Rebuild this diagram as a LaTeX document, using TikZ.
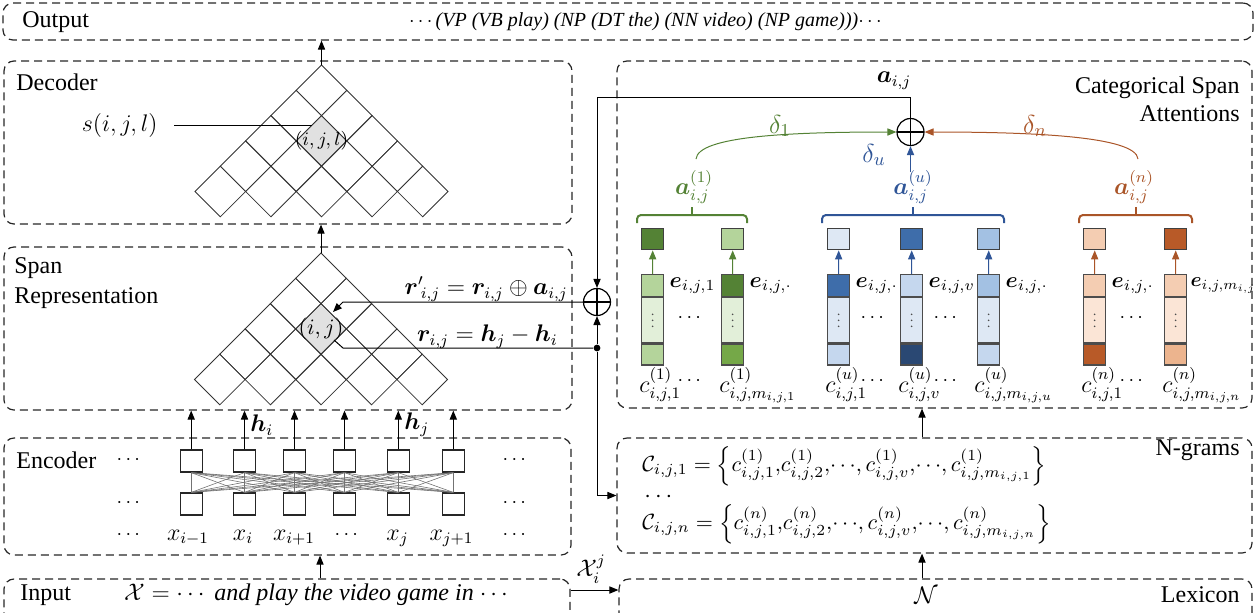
\RequirePackage{fix-cm}
\documentclass[tikz,border=0pt]{standalone}
\usepackage{amsmath}
\usepackage{bm}
\usepackage{fontspec}
\setmainfont{Liberation Serif}
\usetikzlibrary{arrows.meta,calc}

\definecolor{cgreen}{RGB}{84,130,53}
\definecolor{cblue}{RGB}{47,85,151}
\definecolor{cbrown}{RGB}{170,85,40}
\definecolor{gD}{RGB}{84,130,53}
\definecolor{gM}{RGB}{117,168,72}
\definecolor{gL}{RGB}{180,212,155}
\definecolor{gVL}{RGB}{226,239,217}
\definecolor{bN}{RGB}{42,72,115}
\definecolor{bD}{RGB}{62,109,170}
\definecolor{bM}{RGB}{163,193,227}
\definecolor{bL}{RGB}{197,215,238}
\definecolor{bVL}{RGB}{222,232,244}
\definecolor{oD}{RGB}{184,90,40}
\definecolor{oM}{RGB}{236,180,142}
\definecolor{oL}{RGB}{244,205,178}
\definecolor{oVL}{RGB}{251,229,214}
\definecolor{cellgray}{RGB}{225,225,225}

% pyramid of diamond cells: apex x, apex y
\newcommand{\drawpyr}[2]{%
  \fill[cellgray] (#1,#2+50.6) -- (#1+25.3,#2+75.9) -- (#1,#2+101.2) -- (#1-25.3,#2+75.9) -- cycle;
  \foreach \rowi in {0,...,4}{
    \foreach \coli in {0,...,\rowi}{
      \pgfmathsetmacro{\cxx}{#1+(2*\coli-\rowi)*25.3}
      \pgfmathsetmacro{\cyy}{#2+(\rowi+1)*25.3}
      \draw[cell] (\cxx,\cyy-25.3) -- (\cxx+25.3,\cyy) -- (\cxx,\cyy+25.3) -- (\cxx-25.3,\cyy) -- cycle;
    }
  }
}
% embedding column: name, xleft, top, mid, bottom, square, arrow colour
\newcommand{\embcol}[7]{%
  \node[sqbox, fill=#6, anchor=north west] (#1s) at (#2,228) {};
  \node[colcell, fill=#3, minimum height=11pt, anchor=north west] (#1t) at (#2,274) {};
  \node[colcell, fill=#4, minimum height=22.5pt, anchor=north] (#1m) at (#1t.south) {};
  \node[colcell, fill=#5, minimum height=10.5pt, anchor=north] (#1b) at (#1m.south) {};
  \fill[black!70] ([yshift=-3pt]#1m.center) circle[radius=0.45pt] (#1m.center) circle[radius=0.45pt] ([yshift=3pt]#1m.center) circle[radius=0.45pt];
  \draw[arr, #7] (#1t.north) -- (#1s.south);
}

\begin{document}
\begin{tikzpicture}[x=0.5pt,y=-0.5pt,
  panel/.style={draw=black!85, dash pattern=on 4pt off 2.5pt, rounded corners=5pt, line width=0.6pt, inner sep=0pt},
  lbl/.style={font=\fontsize{12}{14}\selectfont, inner sep=0pt},
  elbl/.style={font=\fontsize{11}{13}\selectfont, inner sep=0pt, anchor=west},
  small/.style={font=\fontsize{10}{12}\selectfont, inner sep=0pt},
  arr/.style={-{Triangle[length=4.5pt,width=3.6pt]}, line width=0.5pt},
  cell/.style={draw=black!80, line width=0.4pt},
  ebox/.style={draw=black!85, line width=0.6pt, minimum width=11pt, minimum height=11pt, inner sep=0pt},
  sqbox/.style={draw=black!75, line width=0.7pt, minimum width=11pt, minimum height=10.5pt, inner sep=0pt},
  colcell/.style={draw=black!70, line width=0.6pt, minimum width=11pt, inner sep=0pt},
  oplus/.style={circle, draw, line width=0.6pt, minimum size=13.5pt, inner sep=0pt,
     path picture={\draw[line width=0.6pt] (path picture bounding box.north) -- (path picture bounding box.south) (path picture bounding box.west) -- (path picture bounding box.east);}},
  brk/.style={line width=1pt, rounded corners=2pt},
]
\useasboundingbox (0,0) rectangle (1256,612);
\clip (0,0) rectangle (1256,612);

% ---------- panels ----------
\node[panel, minimum width=625pt, minimum height=18.5pt] (out) at (628,21.5) {};
\node[panel, minimum width=284pt, minimum height=81.5pt] (dec) at (288,142.5) {};
\node[panel, minimum width=284pt, minimum height=81.5pt] (span) at (288,328.5) {};
\node[panel, minimum width=283.5pt, minimum height=58.5pt] (enc) at (287.5,496.5) {};
\node[panel, minimum width=283pt, minimum height=23pt] (inp) at (287,602) {};
\node[panel, minimum width=317.5pt, minimum height=173.5pt] (csa) at (934.5,234.5) {};
\node[panel, minimum width=317.5pt, minimum height=57.5pt] (ngr) at (934.5,495.5) {};
\node[panel, minimum width=316.5pt, minimum height=23pt] (lex) at (935.5,602) {};

% ---------- panel labels ----------
\node[lbl, anchor=west] (outlab) at (22,22) {Output};
\node[inner sep=0pt, font=\fontsize{10}{12}\selectfont\itshape] (outtxt) at (647,22) {$\cdots$(VP (VB play) (NP (DT the) (NN video) (NP game)))$\cdots$};
\node[lbl, anchor=west] (declab) at (16,82) {Decoder};
\node[lbl, anchor=west, align=left, font=\fontsize{12}{15}\selectfont] (spanlab) at (14,283) {Span\\Representation};
\node[lbl, anchor=west] (enclab) at (16,460) {Encoder};
\node[lbl, anchor=west] (inplab) at (20,595) {Input};
\node[lbl] (inptxt) at (318,595) {$\mathcal{X} = \cdots$ \textit{and play the video game in} $\cdots$};
\node[lbl, anchor=east, align=right] (csalab) at (1240,99) {Categorical Span\\Attentions};
\node[lbl, anchor=east] (nglab) at (1240,450) {N-grams};
\node[lbl, anchor=east] (lexlab) at (1240,595) {Lexicon};
\node[lbl] (Nlab) at (926,595) {$\mathcal{N}$};

% ---------- decoder ----------
\drawpyr{321.5}{65}
\node[inner sep=0pt, font=\fontsize{9.5}{11}\selectfont] (cellD) at (321.5,141) {$(i,j,l)$};
\coordinate (decapex) at (321.5,65);
\draw[arr] (decapex) -- (decapex |- out.south);
\node[lbl, anchor=east] (slab) at (158,125) {$s(i,j,l)$};
\coordinate (sEnd) at (312,125);
\draw[line width=0.5pt] ([xshift=8pt]slab.east) -- (sEnd);

% ---------- span representation ----------
\drawpyr{321}{253}
\node[inner sep=0pt, font=\fontsize{11}{13}\selectfont] (cellS) at (321,329) {$(i,j)$};
\coordinate (spanapex) at (321,253);
\draw[arr] (spanapex) -- (spanapex |- dec.south);
\node[lbl, anchor=east] (rplab) at (568,289) {${\bm{r}'}_{\!i,j} = \bm{r}_{i,j} \oplus \bm{a}_{i,j}$};
\node[lbl, anchor=east] (rlab) at (558,337) {$\bm{r}_{i,j} = \bm{h}_j - \bm{h}_i$};

% ---------- encoder ----------
\foreach \kk/\xq in {1/191.2,2/244.5,3/294.5,4/344.5,5/398.3,6/453.3}{
  \node[ebox] (et\kk) at (\xq,461) {};
  \node[ebox] (eb\kk) at (\xq,504) {};
}
\foreach \ka in {1,...,6}{
  \foreach \kb in {1,...,6}{
    \draw[black!55, line width=0.3pt] (et\ka.south) -- (eb\kb.north);
  }
  \draw[arr] (et\ka.north) -- (et\ka.north |- span.south);
}
\node[lbl, anchor=west] (hi) at (250,425) {$\bm{h}_i$};
\node[lbl, anchor=west] (hj) at (404,425) {$\bm{h}_j$};
\foreach \yq in {460,503,535}{
  \node[small] (dl\yq) at (130,\yq) {$\cdots$};
  \node[small] (dr\yq) at (516,\yq) {$\cdots$};
}
\node[lbl, anchor=base] (x1) at (188,540) {$x_{i-1}$};
\node[lbl, anchor=base] (x2) at (243,540) {$x_{i}$};
\node[lbl, anchor=base] (x3) at (294,540) {$x_{i+1}$};
\node[small] (x4) at (348,535) {$\cdots$};
\node[lbl, anchor=base] (x5) at (397.5,540) {$x_{j}$};
\node[lbl, anchor=base] (x6) at (451.5,540) {$x_{j+1}$};

% ---------- input / lexicon ----------
\coordinate (inx) at (320,0);
\draw[arr] (inp.north -| inx) -- (enc.south -| inx);
\coordinate (xarr) at (0,590);
\draw[arr] (inp.east |- xarr) -- (lex.west |- xarr);
\node[lbl] (xij) at (591,569) {$\mathcal{X}_i^j$};
\coordinate (colx) at (922,0);
\draw[arr] (lex.north -| colx) -- (ngr.south -| colx);
\draw[arr] (ngr.north -| colx) -- (csa.south -| colx);

% ---------- n-grams ----------
\node[lbl, anchor=west, font=\fontsize{11}{13}\selectfont] (ng1) at (642,466) {$\mathcal{C}_{i,j,1} = \left\{c^{(1)}_{i,j,1},\!c^{(1)}_{i,j,2},\!\cdots\!,c^{(1)}_{i,j,v},\!\cdots\!,c^{(1)}_{i,j,m_{i,j,1}}\right\}$};
\node[lbl, anchor=west] (ng2) at (644,497) {$\cdots$};
\node[lbl, anchor=west, font=\fontsize{11}{13}\selectfont] (ng3) at (642,524) {$\mathcal{C}_{i,j,n} = \left\{c^{(n)}_{i,j,1},\!c^{(n)}_{i,j,2},\!\cdots\!,c^{(n)}_{i,j,v},\!\cdots\!,c^{(n)}_{i,j,m_{i,j,n}}\right\}$};

% ---------- oplus and routing ----------
\node[oplus] (oL) at (597,302) {};
\node[oplus] (oR) at (910.5,132) {};
\node[circle, fill, inner sep=0pt, minimum size=3.4pt] (dot) at (597,348) {};
\coordinate (ytop) at (0,97);
\draw[arr] (oR.north) -- (oR.north |- ytop) -| (oL.north);
\node[lbl] (alab) at (894,81) {$\bm{a}_{i,j}$};
\draw[arr] (dot) -- (oL.south);
\draw[arr] (dot) |- (ngr.west);
\coordinate (rpb) at (343,302);
\coordinate (rpt) at (333,312);
\draw[arr] (oL.west) -- (rpb) -- (rpt);
\coordinate (rb) at (343,348);
\coordinate (rt) at (334,340);
\draw[line width=0.5pt] (dot) -- (rb) -- (rt);

% ---------- categorical span attentions ----------
\embcol{G1}{641}{gL}{gVL}{gL}{gD}{cgreen}
\embcol{G2}{721}{gD}{gVL}{gM}{gL}{cgreen}
\embcol{B1}{827}{bD}{bVL}{bL}{bVL}{cblue}
\embcol{B2}{900}{bL}{bVL}{bN}{bD}{cblue}
\embcol{B3}{977}{bM}{bVL}{bL}{bM}{cblue}
\embcol{N1}{1083}{oL}{oVL}{oD}{oL}{cbrown}
\embcol{N2}{1164}{oL}{oVL}{oM}{oD}{cbrown}

\node[elbl] (eG1) at ([xshift=2.5pt]G1t.east) {$\bm{e}_{i,j,1}$};
\node[elbl] (eG2) at ([xshift=2.5pt]G2t.east) {$\bm{e}_{i,j,\cdot}$};
\node[elbl] (eB1) at ([xshift=2.5pt]B1t.east) {$\bm{e}_{i,j,\cdot}$};
\node[elbl] (eB2) at ([xshift=2.5pt]B2t.east) {$\bm{e}_{i,j,v}$};
\node[elbl] (eB3) at ([xshift=2.5pt]B3t.east) {$\bm{e}_{i,j,\cdot}$};
\node[elbl] (eN1) at ([xshift=2.5pt]N1t.east) {$\bm{e}_{i,j,\cdot}$};
\node[elbl, font=\fontsize{10}{12}\selectfont] (eN2) at ([xshift=1.5pt]N2t.east) {$\bm{e}_{i,j,m_{i,j}}$};

\foreach \xq/\nm in {691/a,874/b,947/c,1133/d}{
  \node[small] (dm\nm) at (\xq,318) {$\cdots$};
  \node[small] (dc\nm) at (\xq,381) {$\cdots$};
}
\node[lbl, anchor=base west] (cG1) at (639,392) {$c^{(1)}_{i,j,1}$};
\node[lbl, anchor=base west] (cG2) at (719,392) {$c^{(1)}_{i,j,m_{i,j,1}}$};
\node[lbl, anchor=base west] (cB1) at (825,392) {$c^{(u)}_{i,j,1}$};
\node[lbl, anchor=base west] (cB2) at (898,392) {$c^{(u)}_{i,j,v}$};
\node[lbl, anchor=base west] (cB3) at (974,392) {$c^{(u)}_{i,j,m_{i,j,u}}$};
\node[lbl, anchor=base west] (cN1) at (1081,392) {$c^{(n)}_{i,j,1}$};
\node[lbl, anchor=base west] (cN2) at (1162,392) {$c^{(n)}_{i,j,m_{i,j,n}}$};

% brackets
\draw[brk, cgreen] (637,223) -- (637,215) -- (747,215) -- (747,223);
\draw[line width=1pt, cgreen] (692,215) -- (692,207);
\draw[brk, cblue] (822,223) -- (822,215) -- (1004,215) -- (1004,223);
\draw[line width=1pt, cblue] (913,215) -- (913,207);
\draw[brk, cbrown] (1079,223) -- (1079,215) -- (1192,215) -- (1192,223);
\draw[line width=1pt, cbrown] (1136,215) -- (1136,207);

\node[lbl, text=cgreen] (aG) at (694,187) {$\bm{a}^{(1)}_{i,j}$};
\node[lbl, text=cblue] (aU) at (913,187) {$\bm{a}^{(u)}_{i,j}$};
\node[lbl, text=cbrown] (aN) at (1134,187) {$\bm{a}^{(n)}_{i,j}$};

\coordinate (gstart) at (696,159);
\coordinate (ustart) at (910.5,172);
\coordinate (nstart) at (1138,159);
\draw[arr, cgreen] (gstart) .. controls (698,136) and (790,132) .. (oR.west);
\draw[arr, cblue] (ustart) -- (oR.south);
\draw[arr, cbrown] (nstart) .. controls (1136,136) and (1030,132) .. (oR.east);
\node[lbl, text=cgreen, font=\fontsize{13}{15}\selectfont] (d1) at (780,126) {$\delta_1$};
\node[lbl, text=cblue, font=\fontsize{13}{15}\selectfont] (du) at (874,155) {$\delta_u$};
\node[lbl, text=cbrown, font=\fontsize{13}{15}\selectfont] (dn) at (1035,126) {$\delta_n$};

\end{tikzpicture}
\end{document}
